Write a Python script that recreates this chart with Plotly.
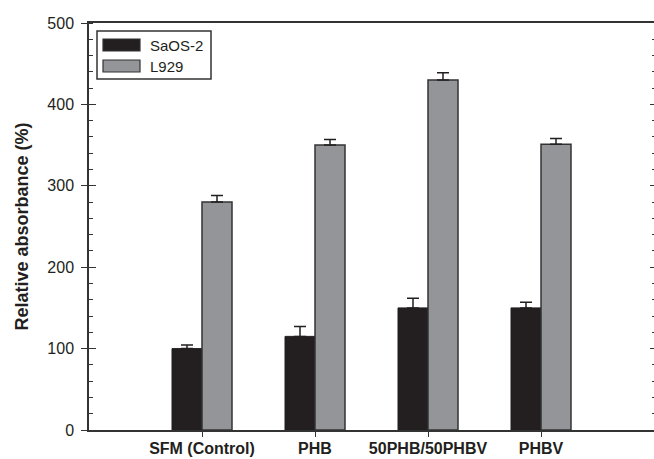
import plotly.graph_objects as go

categories = ["SFM (Control)", "PHB", "50PHB/50PHBV", "PHBV"]
saos2 = [100, 115, 150, 150]
saos2_err = [4.5, 12, 12, 7]
l929 = [280, 350, 430, 351]
l929_err = [8, 7, 9, 7]
y_ticks = [0, 100, 200, 300, 400, 500]
series_names = ["SaOS-2", "L929"]
series_colors = ["#231f20", "#939598"]

xpos = list(range(1, len(categories) + 1))
FONT = "Liberation Sans, Arial, sans-serif"
AX = "#333333"

fig = go.Figure()
fig.add_trace(go.Bar(
    x=xpos, y=saos2, name=series_names[0],
    marker=dict(color=series_colors[0], line=dict(color="#231f20", width=1)),
    error_y=dict(type="data", array=saos2_err, arrayminus=[0] * 4, symmetric=False,
                 color="#231f20", thickness=1.5, width=6),
))
fig.add_trace(go.Bar(
    x=xpos, y=l929, name=series_names[1],
    marker=dict(color=series_colors[1], line=dict(color="#333333", width=1.5)),
    error_y=dict(type="data", array=l929_err, arrayminus=[0] * 4, symmetric=False,
                 color="#231f20", thickness=1.5, width=6),
))
# helper traces for extra tick axes
fig.add_trace(go.Scatter(x=[None], y=[None], yaxis="y2", showlegend=False, hoverinfo="skip"))
fig.add_trace(go.Scatter(x=[None], y=[None], yaxis="y3", showlegend=False, hoverinfo="skip"))

# legend drawn as a boxed key (paper coordinates)
L, T, PW, PH = 89, 23, 565, 407
def px(x):
    return (x - L) / PW
def py(y):
    return (T + PH - y) / PH

shapes = [dict(type="rect", xref="paper", yref="paper",
               x0=px(97), x1=px(211), y0=py(79), y1=py(31),
               line=dict(color=AX, width=1.5), fillcolor="white", layer="above")]
annotations = []
for i, (nm, col) in enumerate(zip(series_names, series_colors)):
    yc = 45 + i * 21
    shapes.append(dict(type="rect", xref="paper", yref="paper",
                       x0=px(103), x1=px(140), y0=py(yc + 6), y1=py(yc - 6),
                       line=dict(color="#333333", width=1.2), fillcolor=col, layer="above"))
    annotations.append(dict(text=nm, xref="paper", yref="paper", x=px(148), y=py(yc + 0.5),
                            xanchor="left", yanchor="middle", showarrow=False,
                            font=dict(size=15, family=FONT, color="#231f20")))

yr = [0, 500]
fig.update_layout(
    width=654, height=459,
    margin=dict(l=L, r=0, t=T, b=459 - T - PH, autoexpand=False),
    paper_bgcolor="white", plot_bgcolor="white",
    barmode="group", bargap=0.469, bargroupgap=0,
    font=dict(family=FONT, color="#231f20"),
    showlegend=False,
    shapes=shapes, annotations=annotations,
    xaxis=dict(range=[0, 5], tickvals=xpos, ticktext=categories,
               showline=True, linecolor=AX, linewidth=1.5, mirror=True,
               ticks="outside", ticklen=5, tickwidth=1.2, tickcolor=AX,
               tickfont=dict(size=16, family=FONT, color="#231f20", weight="bold"),
               ticklabelstandoff=-2,
               showgrid=False, zeroline=False, fixedrange=True, automargin=False),
    yaxis=dict(range=yr, tickvals=y_ticks,
               showline=True, linecolor=AX, linewidth=1.5,
               ticks="outside", ticklen=6, tickwidth=1.2, tickcolor=AX,
               minor=dict(ticks="inside", ticklen=4, tickwidth=1, tickcolor=AX, dtick=20),
               tickfont=dict(size=16, family=FONT, color="#231f20"),
               ticklabelstandoff=4,
               title=dict(text="Relative absorbance (%)", standoff=14,
                          font=dict(size=18, family=FONT, color="#231f20", weight="bold")),
               showgrid=False, zeroline=False, fixedrange=True, automargin=False),
    yaxis2=dict(range=yr, overlaying="y", side="left", tickvals=y_ticks,
                ticks="inside", ticklen=7, tickwidth=1.2, tickcolor=AX,
                showticklabels=False, showline=False, showgrid=False, zeroline=False),
    yaxis3=dict(range=yr, overlaying="y", side="right", tickvals=y_ticks,
                ticks="inside", ticklen=4, tickwidth=1.2, tickcolor=AX,
                minor=dict(ticks="inside", ticklen=2.5, tickwidth=1, tickcolor=AX, dtick=20),
                showticklabels=False, showline=False, showgrid=False, zeroline=False),
)

fig.write_html("out.html", config={"displayModeBar": False},
               post_script="document.body.style.margin='0';document.body.style.overflow='hidden';")
